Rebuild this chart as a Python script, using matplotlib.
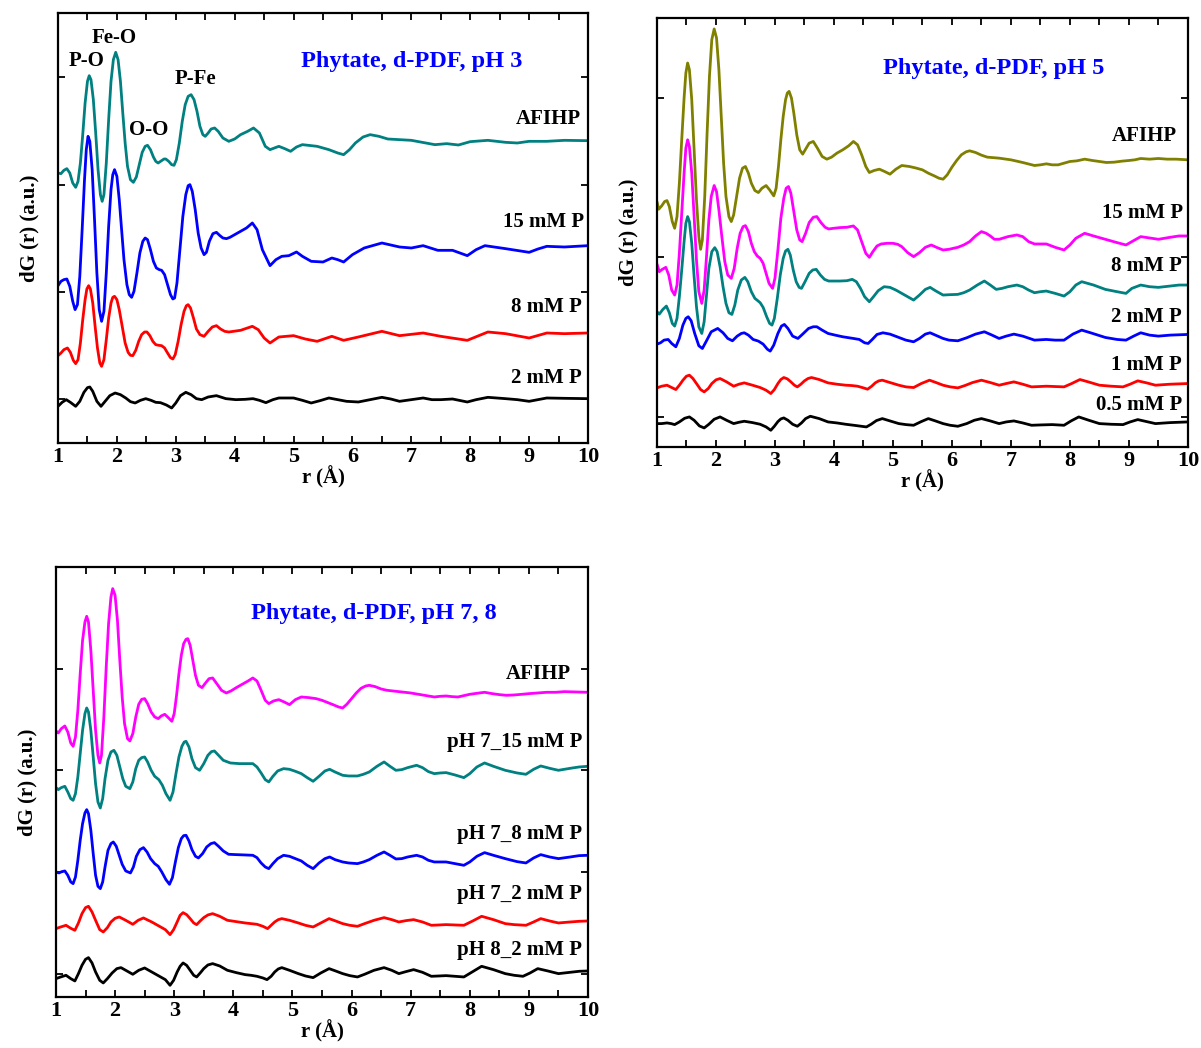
import matplotlib
matplotlib.use('Agg')
import matplotlib.pyplot as plt
from matplotlib.ticker import MultipleLocator

plt.rcParams['font.family'] = ['Liberation Serif', 'DejaVu Serif']
plt.rcParams['font.weight'] = 'bold'

# each curve: (r in Angstrom, dG(r) in a.u., offset included as drawn)

# ---------------- pH 3 ----------------
ph3_afihp = [(1.00,8.10),(1.05,8.08),(1.10,8.18),(1.15,8.23),(1.20,8.10),(1.25,7.80),(1.30,7.67),(1.34,7.85),
    (1.38,8.40),(1.42,9.25),(1.46,10.20),(1.50,10.85),(1.53,11.02),(1.56,10.90),(1.60,10.30),(1.64,9.30),
    (1.68,8.20),(1.72,7.45),(1.75,7.25),(1.78,7.45),(1.82,8.40),(1.86,9.70),(1.90,10.85),(1.94,11.50),
    (1.98,11.72),(2.02,11.50),(2.06,10.85),(2.10,9.90),(2.14,9.00),(2.18,8.30),(2.23,7.90),(2.28,7.82),
    (2.33,7.98),(2.38,8.35),(2.43,8.72),(2.48,8.90),(2.52,8.93),(2.57,8.80),(2.62,8.58),(2.66,8.45),
    (2.70,8.40),(2.75,8.46),(2.80,8.52),(2.83,8.52),(2.88,8.45),(2.93,8.35),(2.97,8.33),(3.01,8.50),
    (3.06,9.00),(3.11,9.65),(3.16,10.15),(3.21,10.40),(3.26,10.45),(3.31,10.30),(3.36,9.95),(3.41,9.50),
    (3.46,9.25),(3.50,9.20),(3.55,9.30),(3.60,9.42),(3.66,9.45),(3.72,9.35),(3.80,9.15),(3.90,9.05),
    (4.00,9.12),(4.10,9.25),(4.22,9.35),(4.32,9.45),(4.42,9.30),(4.52,8.90),(4.60,8.80),(4.75,8.90),
    (4.85,8.83),(4.95,8.75),(5.05,8.88),(5.15,8.95),(5.40,8.90),(5.60,8.80),(5.75,8.70),(5.85,8.65),
    (5.95,8.80),(6.05,9.00),(6.18,9.18),(6.30,9.25),(6.45,9.20),(6.60,9.12),(7.00,9.08),(7.40,8.95),
    (7.60,8.98),(7.80,8.94),(8.00,9.04),(8.30,9.08),(8.60,9.02),(8.80,9.00),(9.00,9.05),(9.30,9.05),
    (9.60,9.08),(10.00,9.07)]

ph3_15mm = [(1.00,4.72),(1.05,4.85),(1.10,4.90),(1.15,4.92),(1.20,4.70),(1.25,4.25),(1.29,4.00),(1.33,4.15),
    (1.37,5.00),(1.41,6.40),(1.45,7.90),(1.48,8.80),(1.51,9.20),(1.54,9.05),(1.58,8.20),(1.62,6.70),
    (1.66,5.10),(1.70,4.00),(1.74,3.65),(1.78,3.95),(1.82,5.10),(1.86,6.50),(1.90,7.60),(1.93,8.05),
    (1.96,8.20),(2.00,8.00),(2.04,7.30),(2.08,6.40),(2.12,5.50),(2.17,4.75),(2.21,4.45),(2.25,4.37),
    (2.29,4.55),(2.34,5.10),(2.39,5.70),(2.44,6.05),(2.48,6.15),(2.52,6.10),(2.57,5.80),(2.62,5.45),
    (2.67,5.25),(2.72,5.20),(2.76,5.18),(2.81,5.05),(2.86,4.75),(2.91,4.45),(2.95,4.32),(2.98,4.35),
    (3.02,4.80),(3.07,5.80),(3.12,6.80),(3.17,7.45),(3.21,7.72),(3.24,7.75),(3.28,7.55),(3.33,7.00),
    (3.38,6.30),(3.43,5.85),(3.48,5.65),(3.52,5.72),(3.57,6.05),(3.63,6.28),(3.69,6.32),(3.75,6.22),
    (3.80,6.15),(3.86,6.13),(3.92,6.17),(4.00,6.25),(4.10,6.35),(4.20,6.45),(4.30,6.60),(4.38,6.40),
    (4.47,5.80),(4.60,5.32),(4.70,5.50),(4.80,5.60),(4.92,5.62),(5.05,5.73),(5.15,5.60),(5.30,5.45),
    (5.50,5.43),(5.65,5.55),(5.75,5.50),(5.85,5.43),(6.00,5.65),(6.20,5.85),(6.50,6.00),(6.80,5.88),
    (7.00,5.85),(7.20,5.92),(7.45,5.78),(7.70,5.78),(7.95,5.62),(8.10,5.80),(8.25,5.92),(8.60,5.83),
    (9.00,5.72),(9.15,5.82),(9.30,5.90),(9.60,5.88),(10.00,5.92)]

ph3_8mm = [(1.00,2.62),(1.05,2.70),(1.10,2.80),(1.16,2.85),(1.21,2.72),(1.26,2.48),(1.30,2.38),(1.34,2.50),
    (1.38,3.00),(1.42,3.70),(1.46,4.30),(1.49,4.62),(1.52,4.72),(1.55,4.62),(1.59,4.20),(1.63,3.50),
    (1.67,2.85),(1.71,2.40),(1.74,2.30),(1.78,2.50),(1.82,3.10),(1.86,3.75),(1.90,4.20),(1.93,4.37),
    (1.96,4.40),(2.00,4.30),(2.04,4.00),(2.09,3.50),(2.14,3.00),(2.19,2.72),(2.23,2.63),(2.27,2.62),
    (2.32,2.78),(2.37,3.05),(2.42,3.25),(2.47,3.33),(2.51,3.33),(2.56,3.22),(2.61,3.05),(2.66,2.95),
    (2.71,2.93),(2.76,2.92),(2.81,2.85),(2.86,2.70),(2.91,2.56),(2.95,2.52),(2.99,2.65),(3.04,3.05),
    (3.09,3.55),(3.14,3.95),(3.18,4.12),(3.21,4.15),(3.25,4.05),(3.30,3.75),(3.35,3.42),(3.41,3.25),
    (3.48,3.20),(3.55,3.35),(3.62,3.48),(3.69,3.52),(3.76,3.42),(3.83,3.35),(3.90,3.33),(4.10,3.38),
    (4.30,3.50),(4.40,3.40),(4.50,3.15),(4.60,3.00),(4.75,3.18),(5.00,3.22),(5.20,3.12),(5.40,3.05),
    (5.65,3.20),(5.85,3.08),(6.10,3.18),(6.50,3.35),(6.80,3.22),(7.20,3.30),(7.50,3.20),(7.95,3.08),
    (8.30,3.33),(8.60,3.28),(9.00,3.15),(9.30,3.30),(9.60,3.28),(10.00,3.30)]

ph3_2mm = [(1.00,1.10),(1.07,1.22),(1.14,1.30),(1.21,1.22),(1.30,1.10),(1.37,1.25),(1.44,1.52),(1.50,1.66),
    (1.54,1.68),(1.59,1.55),(1.66,1.25),(1.73,1.10),(1.80,1.25),(1.88,1.42),(1.97,1.50),(2.06,1.45),
    (2.15,1.35),(2.23,1.24),(2.31,1.20),(2.40,1.28),(2.49,1.33),(2.58,1.28),(2.66,1.22),(2.74,1.21),
    (2.84,1.14),(2.93,1.05),(3.00,1.20),(3.08,1.42),(3.17,1.52),(3.26,1.45),(3.35,1.33),(3.44,1.30),
    (3.55,1.38),(3.69,1.42),(3.85,1.33),(4.02,1.30),(4.18,1.31),(4.31,1.33),(4.42,1.28),(4.53,1.21),
    (4.65,1.30),(4.75,1.35),(5.00,1.35),(5.15,1.28),(5.30,1.20),(5.45,1.27),(5.60,1.35),(5.75,1.30),
    (5.90,1.25),(6.10,1.23),(6.30,1.30),(6.50,1.37),(6.65,1.32),(6.80,1.25),(7.00,1.30),(7.20,1.35),
    (7.35,1.30),(7.50,1.30),(7.70,1.32),(7.95,1.23),(8.10,1.30),(8.30,1.37),(8.60,1.33),(8.80,1.30),
    (9.00,1.25),(9.15,1.30),(9.30,1.35),(9.60,1.34),(10.00,1.33)]

# ---------------- pH 5 ----------------
ph5_afihp = [(1.00,7.35),(1.03,7.12),(1.08,7.22),(1.13,7.35),(1.17,7.38),(1.21,7.20),(1.26,6.75),(1.30,6.55),
    (1.34,6.90),(1.38,7.90),(1.42,9.20),(1.46,10.45),(1.49,11.20),(1.52,11.50),(1.55,11.30),(1.59,10.40),
    (1.63,8.90),(1.67,7.40),(1.71,6.30),(1.74,5.92),(1.77,6.20),(1.81,7.50),(1.85,9.40),(1.89,11.10),
    (1.93,12.20),(1.97,12.52),(2.01,12.25),(2.05,11.30),(2.09,9.90),(2.13,8.50),(2.17,7.50),(2.22,6.90),
    (2.26,6.75),(2.30,6.95),(2.35,7.50),(2.40,8.05),(2.45,8.35),(2.50,8.40),(2.55,8.20),(2.60,7.90),
    (2.66,7.68),(2.72,7.62),(2.78,7.75),(2.85,7.83),(2.91,7.70),(2.98,7.52),(3.02,7.75),(3.06,8.40),
    (3.10,9.20),(3.14,9.90),(3.18,10.40),(3.21,10.60),(3.24,10.65),(3.28,10.45),(3.32,10.00),(3.37,9.35),
    (3.42,8.90),(3.47,8.77),(3.52,8.92),(3.58,9.10),(3.65,9.15),(3.72,8.95),(3.80,8.70),(3.88,8.62),
    (3.96,8.68),(4.05,8.80),(4.15,8.90),(4.25,9.02),(4.33,9.15),(4.40,9.05),(4.47,8.75),(4.54,8.40),
    (4.60,8.22),(4.68,8.28),(4.77,8.32),(4.86,8.25),(4.95,8.17),(5.05,8.32),(5.15,8.43),(5.28,8.40),
    (5.40,8.35),(5.50,8.30),(5.60,8.20),(5.70,8.12),(5.78,8.05),(5.85,8.02),(5.92,8.15),(6.00,8.38),
    (6.08,8.58),(6.16,8.75),(6.24,8.84),(6.30,8.87),(6.40,8.82),(6.50,8.74),(6.60,8.68),(6.80,8.65),
    (7.00,8.60),(7.20,8.52),(7.40,8.43),(7.50,8.45),(7.60,8.48),(7.70,8.45),(7.80,8.45),(7.90,8.50),
    (8.00,8.55),(8.12,8.57),(8.25,8.62),(8.38,8.58),(8.50,8.55),(8.62,8.52),(8.75,8.53),(8.88,8.56),
    (9.00,8.58),(9.10,8.60),(9.20,8.64),(9.35,8.62),(9.50,8.64),(9.65,8.62),(9.80,8.62),(10.00,8.60)]

ph5_15mm = [(1.00,5.48),(1.04,5.25),(1.09,5.32),(1.15,5.38),(1.20,5.15),(1.25,4.70),(1.30,4.55),(1.34,4.85),
    (1.38,5.80),(1.42,7.00),(1.46,8.20),(1.49,8.95),(1.52,9.20),(1.55,9.00),(1.59,8.20),(1.63,6.90),
    (1.67,5.60),(1.71,4.65),(1.76,4.30),(1.80,4.70),(1.84,5.70),(1.88,6.80),(1.92,7.50),(1.97,7.83),
    (2.01,7.65),(2.05,7.10),(2.10,6.30),(2.15,5.55),(2.20,5.15),(2.26,5.05),(2.31,5.35),(2.36,5.95),
    (2.41,6.40),(2.46,6.60),(2.50,6.63),(2.55,6.45),(2.60,6.10),(2.65,5.85),(2.70,5.72),(2.75,5.65),
    (2.80,5.50),(2.85,5.20),(2.90,4.90),(2.96,4.75),(3.00,5.05),(3.05,5.90),(3.10,6.85),(3.15,7.45),
    (3.19,7.75),(3.23,7.80),(3.27,7.60),(3.32,7.05),(3.37,6.50),(3.42,6.20),(3.46,6.15),(3.52,6.40),
    (3.58,6.72),(3.65,6.88),(3.71,6.90),(3.78,6.72),(3.85,6.58),(3.91,6.53),(4.00,6.55),(4.10,6.57),
    (4.22,6.58),(4.33,6.62),(4.40,6.50),(4.47,6.15),(4.54,5.80),(4.60,5.68),(4.66,5.85),(4.73,6.02),
    (4.80,6.08),(4.90,6.10),(5.00,6.10),(5.08,6.07),(5.15,6.00),(5.25,5.82),(5.35,5.70),(5.45,5.82),
    (5.55,5.98),(5.65,6.05),(5.75,5.97),(5.85,5.90),(5.95,5.92),(6.10,5.98),(6.20,6.05),(6.30,6.15),
    (6.40,6.32),(6.50,6.45),(6.58,6.40),(6.65,6.32),(6.72,6.22),(6.80,6.22),(6.95,6.30),(7.10,6.35),
    (7.20,6.30),(7.30,6.15),(7.40,6.08),(7.50,6.08),(7.60,6.08),(7.75,5.98),(7.90,5.90),(8.00,6.05),
    (8.10,6.25),(8.25,6.40),(8.40,6.32),(8.60,6.22),(8.80,6.12),(8.95,6.05),(9.08,6.18),(9.20,6.30),
    (9.35,6.26),(9.50,6.22),(9.70,6.28),(9.85,6.32),(10.00,6.32)]

ph5_8mm = [(1.00,4.05),(1.04,3.98),(1.10,4.12),(1.16,4.22),(1.21,4.02),(1.26,3.70),(1.30,3.62),(1.34,3.85),
    (1.38,4.50),(1.42,5.30),(1.46,6.15),(1.49,6.70),(1.52,6.90),(1.55,6.75),(1.59,6.10),(1.63,5.10),
    (1.67,4.20),(1.71,3.60),(1.76,3.40),(1.80,3.75),(1.84,4.55),(1.88,5.35),(1.93,5.85),(1.98,5.97),
    (2.02,5.85),(2.07,5.40),(2.12,4.80),(2.17,4.30),(2.22,4.02),(2.27,3.97),(2.32,4.25),(2.37,4.70),
    (2.43,5.00),(2.49,5.08),(2.54,4.95),(2.60,4.65),(2.66,4.45),(2.71,4.38),(2.75,4.32),(2.80,4.18),
    (2.86,3.90),(2.91,3.70),(2.95,3.65),(2.99,3.85),(3.04,4.45),(3.09,5.15),(3.14,5.65),(3.18,5.87),
    (3.22,5.92),(3.26,5.75),(3.31,5.30),(3.36,4.95),(3.41,4.78),(3.45,4.75),(3.51,4.95),(3.58,5.20),
    (3.64,5.30),(3.70,5.32),(3.77,5.15),(3.84,5.02),(3.91,4.97),(4.00,4.97),(4.10,4.97),(4.22,4.98),
    (4.31,5.02),(4.38,4.95),(4.45,4.75),(4.52,4.50),(4.60,4.35),(4.67,4.50),(4.75,4.68),(4.85,4.80),
    (4.95,4.78),(5.05,4.70),(5.15,4.60),(5.25,4.50),(5.35,4.40),(5.45,4.55),(5.55,4.72),(5.63,4.78),
    (5.72,4.68),(5.85,4.55),(5.95,4.56),(6.10,4.57),(6.20,4.62),(6.30,4.70),(6.43,4.85),(6.55,4.97),
    (6.65,4.85),(6.75,4.72),(6.85,4.75),(6.95,4.80),(7.10,4.85),(7.20,4.80),(7.30,4.70),(7.40,4.62),
    (7.50,4.65),(7.60,4.67),(7.75,4.60),(7.90,4.52),(8.00,4.65),(8.10,4.85),(8.20,4.95),(8.40,4.85),
    (8.60,4.72),(8.80,4.65),(8.95,4.60),(9.05,4.75),(9.20,4.85),(9.35,4.80),(9.50,4.78),(9.70,4.82),
    (9.85,4.85),(10.00,4.85)]

ph5_2mm = [(1.00,3.08),(1.06,3.12),(1.12,3.20),(1.19,3.22),(1.25,3.10),(1.32,3.00),(1.38,3.25),(1.44,3.65),
    (1.49,3.85),(1.53,3.90),(1.58,3.78),(1.64,3.40),(1.71,3.03),(1.77,2.95),(1.84,3.18),(1.92,3.45),
    (2.03,3.55),(2.12,3.42),(2.20,3.25),(2.28,3.18),(2.36,3.32),(2.43,3.40),(2.48,3.42),(2.55,3.35),
    (2.63,3.22),(2.72,3.17),(2.80,3.08),(2.87,2.93),(2.92,2.87),(2.98,3.05),(3.05,3.40),(3.11,3.62),
    (3.16,3.67),(3.22,3.55),(3.30,3.32),(3.39,3.25),(3.47,3.38),(3.57,3.55),(3.65,3.60),(3.71,3.60),
    (3.80,3.50),(3.90,3.40),(4.02,3.35),(4.15,3.30),(4.33,3.25),(4.43,3.22),(4.52,3.12),(4.58,3.10),
    (4.65,3.22),(4.73,3.37),(4.83,3.42),(4.95,3.38),(5.10,3.28),(5.22,3.20),(5.35,3.15),(5.45,3.25),
    (5.55,3.38),(5.63,3.42),(5.72,3.35),(5.85,3.25),(5.95,3.20),(6.10,3.18),(6.25,3.27),(6.40,3.38),
    (6.55,3.45),(6.68,3.35),(6.80,3.25),(6.92,3.32),(7.05,3.38),(7.20,3.32),(7.40,3.20),(7.60,3.22),
    (7.75,3.20),(7.90,3.20),(8.05,3.38),(8.20,3.50),(8.35,3.42),(8.60,3.28),(8.80,3.22),(8.95,3.20),
    (9.08,3.32),(9.20,3.42),(9.35,3.35),(9.50,3.32),(9.70,3.35),(10.00,3.37)]

ph5_1mm = [(1.00,1.77),(1.08,1.82),(1.17,1.85),(1.25,1.78),(1.32,1.72),(1.38,1.85),(1.44,2.00),(1.50,2.12),
    (1.55,2.15),(1.61,2.05),(1.67,1.90),(1.74,1.72),(1.80,1.65),(1.87,1.75),(1.93,1.90),(2.00,2.01),
    (2.07,2.05),(2.18,1.95),(2.30,1.82),(2.39,1.88),(2.48,1.92),(2.62,1.85),(2.75,1.78),(2.85,1.70),
    (2.93,1.60),(2.99,1.72),(3.05,1.90),(3.10,2.02),(3.15,2.08),(3.21,2.04),(3.27,1.95),(3.33,1.85),
    (3.38,1.80),(3.44,1.88),(3.50,1.98),(3.56,2.05),(3.62,2.08),(3.75,2.02),(3.90,1.92),(4.05,1.88),
    (4.20,1.85),(4.30,1.84),(4.40,1.82),(4.50,1.77),(4.57,1.73),(4.64,1.82),(4.70,1.92),(4.76,1.98),
    (4.82,2.00),(4.95,1.93),(5.10,1.85),(5.22,1.80),(5.35,1.78),(5.48,1.90),(5.62,2.00),(5.73,1.93),
    (5.85,1.85),(5.97,1.80),(6.10,1.77),(6.22,1.84),(6.35,1.93),(6.50,2.00),(6.65,1.93),(6.80,1.85),
    (6.92,1.90),(7.05,1.95),(7.20,1.88),(7.35,1.80),(7.48,1.81),(7.60,1.82),(7.75,1.81),(7.90,1.80),
    (8.03,1.90),(8.17,2.02),(8.33,1.94),(8.50,1.85),(8.70,1.82),(8.90,1.80),(9.02,1.88),(9.15,1.98),
    (9.30,1.92),(9.45,1.85),(9.70,1.88),(10.00,1.90)]

ph5_05mm = [(1.00,0.70),(1.08,0.70),(1.17,0.72),(1.24,0.70),(1.30,0.67),(1.38,0.75),(1.47,0.86),(1.55,0.90),
    (1.63,0.80),(1.72,0.63),(1.80,0.57),(1.88,0.68),(1.97,0.83),(2.07,0.90),(2.18,0.80),(2.30,0.70),
    (2.39,0.74),(2.48,0.77),(2.62,0.73),(2.75,0.68),(2.85,0.60),(2.93,0.50),(2.99,0.62),(3.05,0.76),
    (3.10,0.84),(3.15,0.87),(3.22,0.80),(3.30,0.68),(3.38,0.62),(3.45,0.72),(3.52,0.85),(3.60,0.92),
    (3.75,0.85),(3.90,0.75),(4.05,0.72),(4.20,0.68),(4.38,0.64),(4.55,0.60),(4.63,0.68),(4.72,0.79),
    (4.82,0.85),(4.95,0.78),(5.10,0.70),(5.22,0.67),(5.35,0.65),(5.48,0.76),(5.60,0.85),(5.72,0.78),
    (5.85,0.70),(5.97,0.65),(6.10,0.62),(6.25,0.70),(6.38,0.80),(6.50,0.85),(6.65,0.78),(6.80,0.70),
    (6.92,0.75),(7.05,0.78),(7.20,0.72),(7.35,0.65),(7.50,0.66),(7.70,0.67),(7.90,0.65),(8.02,0.78),
    (8.15,0.90),(8.32,0.80),(8.50,0.70),(8.70,0.68),(8.90,0.67),(9.02,0.75),(9.15,0.82),(9.30,0.76),
    (9.45,0.70),(9.70,0.73),(10.00,0.75)]

# ---------------- pH 7, 8 ----------------
ph78_afihp = [(1.00,7.98),(1.04,7.92),(1.09,8.05),(1.15,8.13),(1.20,7.95),(1.25,7.62),(1.29,7.52),(1.33,7.80),
    (1.37,8.60),(1.41,9.70),(1.45,10.70),(1.49,11.25),(1.52,11.42),(1.55,11.25),(1.59,10.40),(1.63,9.20),
    (1.67,8.00),(1.71,7.25),(1.74,7.02),(1.77,7.25),(1.81,8.40),(1.85,9.90),(1.89,11.20),(1.93,12.00),
    (1.96,12.25),(2.00,12.05),(2.04,11.30),(2.08,10.10),(2.12,9.00),(2.16,8.20),(2.21,7.75),(2.25,7.68),
    (2.30,7.90),(2.35,8.40),(2.40,8.78),(2.45,8.93),(2.50,8.95),(2.55,8.80),(2.61,8.55),(2.67,8.40),
    (2.73,8.35),(2.78,8.43),(2.84,8.48),(2.90,8.38),(2.96,8.27),(3.00,8.50),(3.04,9.05),(3.08,9.70),
    (3.12,10.25),(3.16,10.60),(3.20,10.73),(3.23,10.75),(3.27,10.55),(3.31,10.15),(3.36,9.65),(3.41,9.35),
    (3.47,9.28),(3.53,9.42),(3.59,9.55),(3.65,9.57),(3.72,9.40),(3.80,9.20),(3.88,9.12),(3.96,9.18),
    (4.05,9.28),(4.15,9.38),(4.25,9.48),(4.33,9.57),(4.40,9.48),(4.47,9.20),(4.54,8.90),(4.60,8.80),
    (4.68,8.88),(4.77,8.92),(4.86,8.85),(4.95,8.77),(5.05,8.92),(5.15,9.00),(5.28,8.98),(5.40,8.95),
    (5.50,8.90),(5.60,8.83),(5.70,8.76),(5.78,8.70),(5.85,8.67),(5.92,8.78),(6.00,8.95),(6.08,9.12),
    (6.16,9.26),(6.24,9.33),(6.30,9.35),(6.40,9.31),(6.50,9.24),(6.60,9.20),(6.80,9.16),(7.00,9.12),
    (7.20,9.06),(7.40,9.00),(7.50,9.02),(7.60,9.03),(7.70,9.01),(7.80,9.00),(7.90,9.04),(8.00,9.08),
    (8.12,9.11),(8.25,9.14),(8.38,9.10),(8.50,9.07),(8.62,9.05),(8.75,9.06),(8.88,9.08),(9.00,9.10),
    (9.15,9.12),(9.30,9.14),(9.45,9.14),(9.60,9.16),(9.80,9.15),(10.00,9.14)]

ph7_15mm = [(1.00,6.28),(1.04,6.22),(1.09,6.28),(1.15,6.32),(1.20,6.15),(1.25,5.95),(1.29,5.90),(1.33,6.10),
    (1.37,6.60),(1.41,7.30),(1.45,8.00),(1.49,8.50),(1.52,8.67),(1.55,8.55),(1.59,8.00),(1.63,7.20),
    (1.67,6.40),(1.71,5.85),(1.75,5.67),(1.79,5.95),(1.83,6.55),(1.88,7.10),(1.93,7.35),(1.98,7.40),
    (2.03,7.25),(2.08,6.90),(2.13,6.55),(2.18,6.32),(2.25,6.25),(2.30,6.45),(2.35,6.85),(2.40,7.10),
    (2.45,7.18),(2.50,7.20),(2.55,7.05),(2.61,6.80),(2.67,6.62),(2.74,6.52),(2.80,6.35),(2.86,6.10),
    (2.93,5.90),(2.98,6.15),(3.03,6.70),(3.08,7.20),(3.13,7.52),(3.17,7.65),(3.20,7.67),(3.25,7.50),
    (3.30,7.15),(3.36,6.88),(3.43,6.80),(3.50,7.00),(3.57,7.25),(3.63,7.36),(3.68,7.38),(3.75,7.25),
    (3.83,7.10),(3.95,7.02),(4.10,7.00),(4.22,7.00),(4.33,7.00),(4.40,6.90),(4.47,6.72),(4.54,6.52),
    (4.60,6.45),(4.67,6.62),(4.75,6.78),(4.85,6.85),(4.95,6.83),(5.05,6.77),(5.15,6.70),(5.25,6.58),
    (5.35,6.47),(5.45,6.62),(5.55,6.78),(5.63,6.83),(5.72,6.75),(5.85,6.65),(5.95,6.63),(6.10,6.63),
    (6.20,6.68),(6.30,6.75),(6.43,6.92),(6.55,7.05),(6.65,6.92),(6.75,6.80),(6.85,6.82),(6.95,6.88),
    (7.10,6.95),(7.20,6.88),(7.30,6.76),(7.40,6.70),(7.50,6.72),(7.60,6.73),(7.75,6.66),(7.90,6.58),
    (8.00,6.70),(8.12,6.90),(8.25,7.02),(8.40,6.92),(8.60,6.80),(8.80,6.72),(8.95,6.68),(9.08,6.83),
    (9.20,6.93),(9.35,6.86),(9.50,6.80),(9.70,6.86),(9.85,6.90),(10.00,6.92)]

ph7_8mm = [(1.00,3.75),(1.05,3.72),(1.10,3.76),(1.15,3.78),(1.20,3.65),(1.25,3.45),(1.29,3.40),(1.33,3.60),
    (1.37,4.10),(1.41,4.70),(1.45,5.20),(1.49,5.52),(1.52,5.62),(1.55,5.50),(1.59,5.00),(1.63,4.30),
    (1.67,3.65),(1.71,3.32),(1.75,3.25),(1.79,3.45),(1.83,3.90),(1.88,4.40),(1.93,4.60),(1.97,4.65),
    (2.02,4.52),(2.07,4.25),(2.12,3.98),(2.18,3.78),(2.26,3.72),(2.31,3.90),(2.36,4.22),(2.42,4.42),
    (2.48,4.48),(2.54,4.35),(2.60,4.15),(2.67,4.00),(2.73,3.92),(2.79,3.75),(2.86,3.52),(2.92,3.38),
    (2.97,3.58),(3.02,4.05),(3.07,4.48),(3.12,4.75),(3.16,4.84),(3.20,4.85),(3.25,4.68),(3.30,4.42),
    (3.36,4.22),(3.41,4.17),(3.48,4.30),(3.55,4.50),(3.62,4.60),(3.68,4.63),(3.75,4.52),(3.83,4.38),
    (3.92,4.28),(4.05,4.27),(4.20,4.26),(4.33,4.25),(4.40,4.18),(4.47,4.02),(4.54,3.90),(4.60,3.85),
    (4.67,4.00),(4.75,4.15),(4.85,4.25),(4.95,4.22),(5.05,4.15),(5.15,4.08),(5.25,3.95),(5.35,3.85),
    (5.45,4.02),(5.55,4.15),(5.63,4.20),(5.72,4.12),(5.85,4.05),(5.95,4.02),(6.10,4.00),(6.20,4.05),
    (6.30,4.12),(6.43,4.25),(6.55,4.35),(6.65,4.25),(6.75,4.14),(6.85,4.15),(6.95,4.20),(7.10,4.25),
    (7.20,4.20),(7.30,4.10),(7.40,4.05),(7.50,4.05),(7.60,4.05),(7.75,4.00),(7.90,3.95),(8.00,4.05),
    (8.12,4.22),(8.25,4.33),(8.40,4.25),(8.60,4.15),(8.80,4.06),(8.95,4.02),(9.08,4.17),(9.20,4.27),
    (9.35,4.20),(9.50,4.15),(9.70,4.20),(9.85,4.24),(10.00,4.25)]

ph7_2mm = [(1.00,2.05),(1.08,2.10),(1.17,2.15),(1.25,2.06),(1.32,2.00),(1.38,2.22),(1.44,2.50),(1.50,2.68),
    (1.55,2.72),(1.61,2.55),(1.67,2.30),(1.74,2.02),(1.80,1.95),(1.87,2.08),(1.93,2.25),(2.00,2.36),
    (2.07,2.40),(2.18,2.30),(2.30,2.18),(2.39,2.30),(2.48,2.37),(2.62,2.25),(2.75,2.12),(2.85,2.02),
    (2.93,1.87),(2.99,2.02),(3.05,2.25),(3.10,2.45),(3.15,2.53),(3.21,2.47),(3.27,2.35),(3.33,2.22),
    (3.38,2.17),(3.44,2.28),(3.50,2.38),(3.57,2.46),(3.65,2.50),(3.77,2.42),(3.90,2.30),(4.05,2.26),
    (4.20,2.22),(4.30,2.20),(4.40,2.18),(4.50,2.12),(4.58,2.05),(4.64,2.15),(4.70,2.25),(4.76,2.32),
    (4.82,2.35),(4.95,2.30),(5.10,2.22),(5.22,2.15),(5.35,2.10),(5.48,2.22),(5.62,2.35),(5.73,2.28),
    (5.85,2.20),(5.97,2.15),(6.10,2.12),(6.22,2.20),(6.38,2.30),(6.55,2.38),(6.68,2.32),(6.80,2.25),
    (6.92,2.29),(7.05,2.32),(7.20,2.25),(7.35,2.15),(7.48,2.16),(7.60,2.17),(7.75,2.16),(7.90,2.15),
    (8.05,2.28),(8.20,2.42),(8.40,2.32),(8.60,2.20),(8.75,2.17),(8.95,2.15),(9.08,2.25),(9.20,2.35),
    (9.35,2.28),(9.50,2.22),(9.70,2.25),(9.85,2.27),(10.00,2.28)]

ph8_2mm = [(1.00,0.55),(1.08,0.60),(1.17,0.65),(1.25,0.55),(1.32,0.48),(1.38,0.70),(1.44,0.95),(1.50,1.13),
    (1.55,1.18),(1.61,1.02),(1.67,0.75),(1.74,0.50),(1.80,0.42),(1.87,0.55),(1.95,0.72),(2.03,0.85),
    (2.10,0.88),(2.20,0.78),(2.30,0.68),(2.40,0.80),(2.50,0.87),(2.62,0.75),(2.75,0.62),(2.85,0.52),
    (2.93,0.35),(2.99,0.50),(3.05,0.75),(3.10,0.92),(3.15,1.02),(3.21,0.95),(3.27,0.80),(3.33,0.65),
    (3.38,0.60),(3.44,0.72),(3.50,0.85),(3.57,0.96),(3.65,1.00),(3.77,0.93),(3.90,0.80),(4.05,0.73),
    (4.20,0.67),(4.30,0.65),(4.40,0.62),(4.50,0.57),(4.57,0.52),(4.64,0.62),(4.70,0.75),(4.76,0.84),
    (4.82,0.88),(4.95,0.80),(5.10,0.70),(5.22,0.63),(5.35,0.58),(5.48,0.72),(5.62,0.85),(5.73,0.78),
    (5.85,0.70),(5.97,0.64),(6.10,0.60),(6.22,0.68),(6.38,0.80),(6.55,0.88),(6.68,0.80),(6.80,0.70),
    (6.92,0.76),(7.05,0.82),(7.20,0.74),(7.35,0.62),(7.48,0.63),(7.60,0.64),(7.75,0.62),(7.90,0.60),
    (8.05,0.76),(8.20,0.92),(8.40,0.82),(8.60,0.70),(8.75,0.65),(8.90,0.62),(9.02,0.72),(9.15,0.85),
    (9.32,0.78),(9.50,0.70),(9.70,0.74),(9.85,0.77),(10.00,0.78)]

fig = plt.figure(figsize=(12.01, 10.48), dpi=100)

ax1 = fig.add_axes([0.0483, 0.5773, 0.4413, 0.4103])
ax2 = fig.add_axes([0.5470, 0.5735, 0.4421, 0.4094])
ax3 = fig.add_axes([0.0466, 0.0487, 0.4430, 0.4103])


def curve(ax, pts, color):
    r, g = zip(*pts)
    ax.plot(r, g, color=color, lw=2.0, solid_joinstyle='round', solid_capstyle='round')


curve(ax1, ph3_afihp, '#008080')
curve(ax1, ph3_15mm, '#0000ff')
curve(ax1, ph3_8mm, '#ff0000')
curve(ax1, ph3_2mm, 'black')

curve(ax2, ph5_afihp, '#808000')
curve(ax2, ph5_15mm, '#ff00ff')
curve(ax2, ph5_8mm, '#008080')
curve(ax2, ph5_2mm, '#0000ff')
curve(ax2, ph5_1mm, '#ff0000')
curve(ax2, ph5_05mm, 'black')

curve(ax3, ph78_afihp, '#ff00ff')
curve(ax3, ph7_15mm, '#008080')
curve(ax3, ph7_8mm, '#0000ff')
curve(ax3, ph7_2mm, '#ff0000')
curve(ax3, ph8_2mm, 'black')

for ax, ytop, yt in [(ax1, 12.9, [1.33, 4.53, 7.75, 10.97]),
                     (ax2, 12.85, [0.90, 5.68, 10.45]),
                     (ax3, 12.9, [0.70, 3.75, 6.82, 9.85])]:
    ax.set_xlim(1, 10)
    ax.set_ylim(0, ytop)
    ax.set_xticks(range(1, 11))
    ax.xaxis.set_minor_locator(MultipleLocator(0.5))
    ax.set_yticks(yt)
    ax.set_yticklabels([])
    ax.tick_params(which='both', direction='in', top=True, right=True,
                   length=5, width=1.3, labelsize=16, pad=3)
    for s in ax.spines.values():
        s.set_linewidth(1.6)
    ax.set_xlabel('r (Å)', fontsize=15, fontweight='bold', labelpad=-1)
    ax.set_ylabel('dG (r) (a.u.)', fontsize=15, fontweight='bold')
    ax.yaxis.set_label_coords(-0.035, 0.5)

fs = 15
tfs = 17.5
# panel 1 annotations
ax1.text(1.96, 12.15, 'Fe-O', fontsize=fs, ha='center', va='center')
ax1.text(1.49, 11.45, 'P-O', fontsize=fs, ha='center', va='center')
ax1.text(2.54, 9.38, 'O-O', fontsize=fs, ha='center', va='center')
ax1.text(3.33, 10.93, 'P-Fe', fontsize=fs, ha='center', va='center')
ax1.text(7.0, 11.43, 'Phytate, d-PDF, pH 3', fontsize=tfs, color='#0000ff', ha='center', va='center')
ax1.text(9.88, 9.73, 'AFIHP', fontsize=fs, ha='right', va='center')
ax1.text(9.93, 6.62, '15 mM P', fontsize=fs, ha='right', va='center')
ax1.text(9.89, 4.07, '8 mM P', fontsize=fs, ha='right', va='center')
ax1.text(9.89, 1.95, '2 mM P', fontsize=fs, ha='right', va='center')

# panel 2 annotations
ax2.text(6.71, 11.35, 'Phytate, d-PDF, pH 5', fontsize=tfs, color='#0000ff', ha='center', va='center')
ax2.text(9.82, 9.30, 'AFIHP', fontsize=fs, ha='right', va='center')
ax2.text(9.92, 7.00, '15 mM P', fontsize=fs, ha='right', va='center')
ax2.text(9.90, 5.42, '8 mM P', fontsize=fs, ha='right', va='center')
ax2.text(9.90, 3.88, '2 mM P', fontsize=fs, ha='right', va='center')
ax2.text(9.90, 2.45, '1 mM P', fontsize=fs, ha='right', va='center')
ax2.text(9.90, 1.27, '0.5 mM P', fontsize=fs, ha='right', va='center')

# panel 3 annotations
ax3.text(6.38, 11.50, 'Phytate, d-PDF, pH 7, 8', fontsize=tfs, color='#0000ff', ha='center', va='center')
ax3.text(9.71, 9.70, 'AFIHP', fontsize=fs, ha='right', va='center')
ax3.text(9.90, 7.65, 'pH 7_15 mM P', fontsize=fs, ha='right', va='center')
ax3.text(9.90, 4.90, 'pH 7_8 mM P', fontsize=fs, ha='right', va='center')
ax3.text(9.90, 3.10, 'pH 7_2 mM P', fontsize=fs, ha='right', va='center')
ax3.text(9.90, 1.40, 'pH 8_2 mM P', fontsize=fs, ha='right', va='center')

fig.savefig('out.png', dpi=100)
